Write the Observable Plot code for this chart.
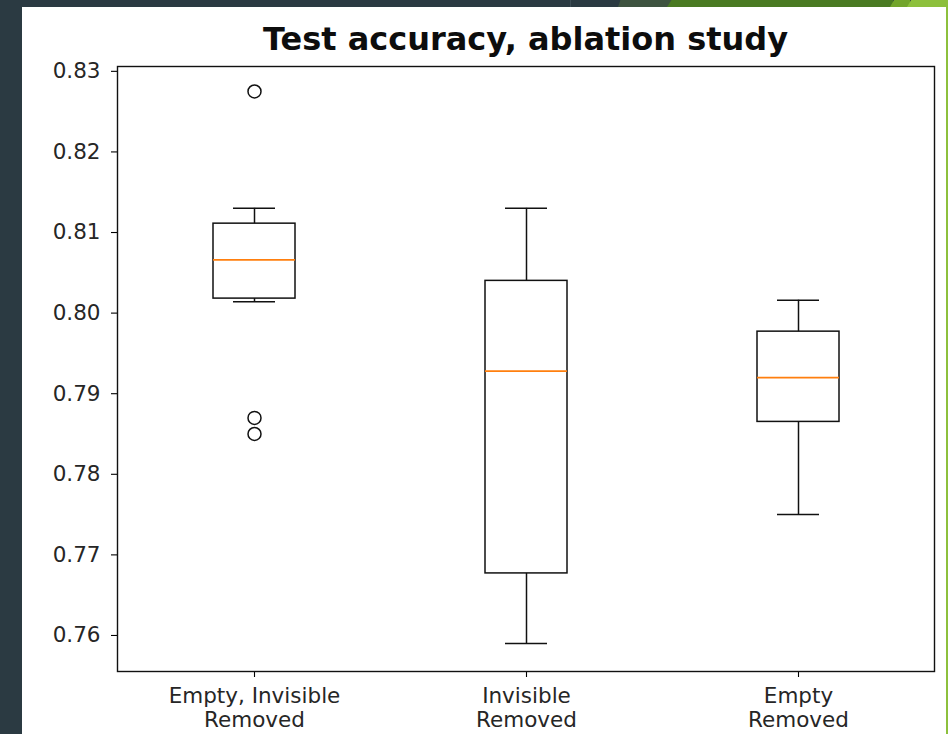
<!DOCTYPE html>
<html>
<head>
<meta charset="utf-8">
<script src="https://cdn.jsdelivr.net/npm/d3@7"></script>
<script src="https://cdn.jsdelivr.net/npm/@observablehq/plot@0.6"></script>
<style>
  html, body { margin: 0; padding: 0; }
  body { width: 948px; height: 734px; background: #2b3a42; position: relative; overflow: hidden; font-family: "DejaVu Sans", sans-serif; }
  .deco { position: absolute; }
  #panel { left: 22px; top: 7px; width: 924px; height: 727px; background: #ffffff; }
  #title { position: absolute; left: 117px; width: 817px; top: 21px; text-align: center; font-weight: bold; font-size: 32px; color: #0d0d0d; line-height: 36px; }
  #chart { position: absolute; left: 0; top: 0; }
</style>
</head>
<body>
<div class="deco" style="left:570px;top:0;width:1px;height:7px;background:#3d4d55"></div>
<div class="deco" style="left:618px;top:0;width:60px;height:7px;background:#3e5340;clip-path:polygon(4% 0,100% 0,100% 100%,0 100%)"></div>
<div class="deco" style="left:667px;top:0;width:226px;height:7px;background:#4a7a22;clip-path:polygon(2% 0,100% 0,100% 100%,0 100%)"></div>
<div class="deco" style="left:890px;top:0;width:20px;height:7px;background:#72a52b;clip-path:polygon(20% 0,100% 0,100% 100%,0 100%)"></div>
<div class="deco" style="left:907px;top:0;width:41px;height:7px;background:#8dc03c;clip-path:polygon(10% 0,100% 0,100% 100%,0 100%)"></div>
<div class="deco" id="panel"></div>
<div class="deco" style="left:946px;top:0;width:2px;height:734px;background:#8dc03c"></div>
<div id="title">Test accuracy, ablation study</div>
<div id="chart"></div>
<script>
// Categories (x tick labels)
const labels = ["Empty, Invisible\nRemoved", "Invisible\nRemoved", "Empty\nRemoved"];
// Box statistics
const whiskerLow  = [0.8014, 0.7590, 0.7750];
const q1          = [0.8018, 0.7677, 0.7865];
const median      = [0.8066, 0.7928, 0.7920];
const q3          = [0.8111, 0.8040, 0.7977];
const whiskerHigh = [0.8130, 0.8130, 0.8016];
// Outliers (fliers)
const outlierGroup  = [0, 0, 0];
const outlierValues = [0.8275, 0.7870, 0.7850];
// Y tick values
const yTicks = [0.76, 0.77, 0.78, 0.79, 0.80, 0.81, 0.82, 0.83];

const rows = labels.map((label, i) => ({
  label, lo: whiskerLow[i], q1: q1[i], med: median[i], q3: q3[i], hi: whiskerHigh[i]
}));
const fliers = outlierValues.map((v, i) => ({label: labels[outlierGroup[i]], value: v}));

const boxInset = 95;
const capInset = 115;

const chart = Plot.plot({
  width: 948,
  height: 734,
  marginLeft: 117,
  marginRight: 14,
  marginTop: 66,
  marginBottom: 63,
  style: {background: "transparent", fontFamily: "DejaVu Sans, sans-serif", fontSize: "21.5px", color: "#262626"},
  x: {type: "band", domain: labels, padding: 0, label: null},
  y: {domain: [0.75553, 0.8306], label: null},
  marks: [
    Plot.axisY({ticks: yTicks, tickFormat: d3.format(".2f"), tickSize: 6, tickPadding: 11, label: null, stroke: "#000", strokeWidth: 1.1}),
    Plot.axisX({tickSize: 6, tickPadding: 8, label: null, lineHeight: 1.12, stroke: "#000", strokeWidth: 1.1}),
    Plot.ruleX(rows, {x: "label", y1: "q3", y2: "hi", stroke: "#111", strokeWidth: 1.5}),
    Plot.ruleX(rows, {x: "label", y1: "lo", y2: "q1", stroke: "#111", strokeWidth: 1.5}),
    Plot.tickY(rows, {x: "label", y: "hi", stroke: "#111", strokeWidth: 1.5, insetLeft: capInset, insetRight: capInset}),
    Plot.tickY(rows, {x: "label", y: "lo", stroke: "#111", strokeWidth: 1.5, insetLeft: capInset, insetRight: capInset}),
    Plot.barY(rows, {x: "label", y1: "q1", y2: "q3", fill: "none", stroke: "#111", strokeWidth: 1.5, insetLeft: boxInset, insetRight: boxInset}),
    Plot.tickY(rows, {x: "label", y: "med", stroke: "#ff7f0e", strokeWidth: 1.7, insetLeft: boxInset, insetRight: boxInset}),
    Plot.dot(fliers, {x: "label", y: "value", r: 6.5, stroke: "#111", strokeWidth: 1.5, fill: "none"}),
    Plot.frame({stroke: "#111", strokeWidth: 1.4})
  ]
});
document.getElementById("chart").appendChild(chart);
</script>
</body>
</html>
